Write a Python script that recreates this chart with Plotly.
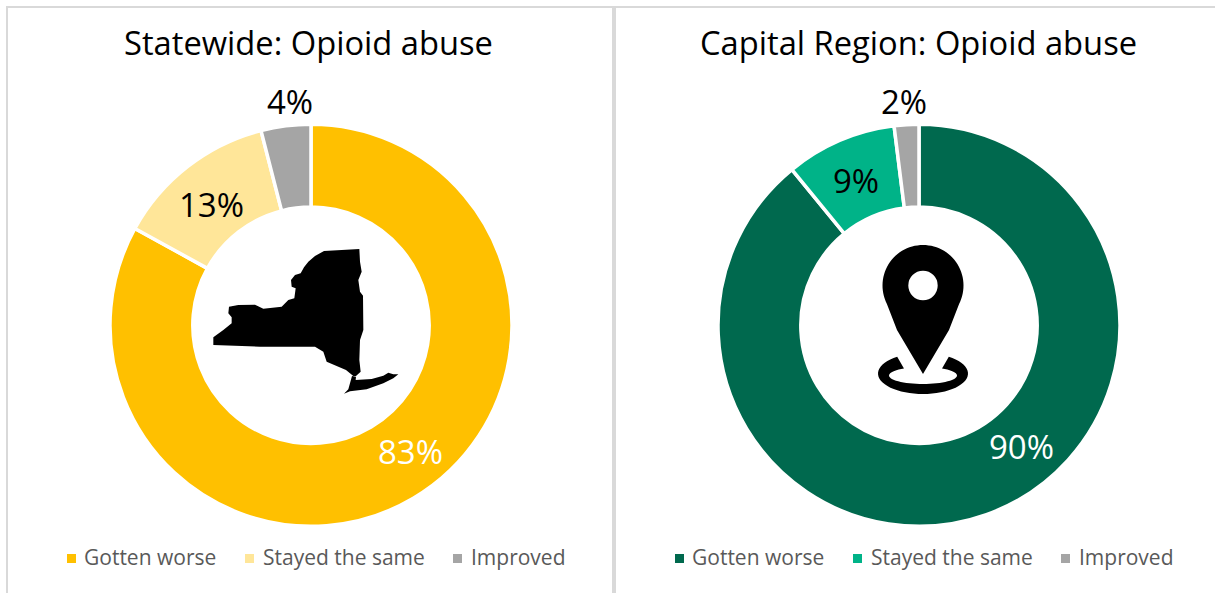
import math
import plotly.graph_objects as go

W, H = 1215, 593
CATEGORIES = ["Gotten worse", "Stayed the same", "Improved"]
STATE_VALUES = [83, 13, 4]
CAPITAL_VALUES = [90, 9, 2]
STATE_COLORS = ["#FFC000", "#FFE699", "#A5A5A5"]
CAPITAL_COLORS = ["#00694E", "#00B388", "#A5A5A5"]
TITLES = ["Statewide: Opioid abuse", "Capital Region: Opioid abuse"]
TEXT = "#595959"
FONT = "Open Sans"
GRID = "#D9D9D9"

def px(x): return x / W
def py(y): return 1 - y / H

def path(points):
    return "M" + "L".join(f"{px(x):.5f},{py(y):.5f}" for x, y in points) + "Z"

def zoomed(points, ox, oy):
    return [(ox + a / 3, oy + b / 3) for a, b in points]

def pie(values, colors, cx, cy=325.3, r=201):
    return go.Pie(
        labels=CATEGORIES, values=values, sort=False, direction="clockwise", rotation=0,
        hole=0.588, textinfo="none", hoverinfo="label+value", showlegend=False,
        marker=dict(colors=colors, line=dict(color="white", width=3.5)),
        domain=dict(x=[px(cx - r), px(cx + r)], y=[py(cy + r), py(cy - r)]),
    )

fig = go.Figure([pie(STATE_VALUES, STATE_COLORS, 311), pie(CAPITAL_VALUES, CAPITAL_COLORS, 919)])

shapes = []
def rect(x0, y0, x1, y1, color):
    shapes.append(dict(type="rect", xref="paper", yref="paper", x0=px(x0), x1=px(x1),
                       y0=py(y0), y1=py(y1), fillcolor=color, line_width=0, layer="below"))

# frame lines
rect(6, 6, W, 8, GRID)
rect(6, 6, 8, H, GRID)
rect(612, 6, 616, H, GRID)

annotations = []
def text(x, y, s, size, color, anchor="center"):
    annotations.append(dict(x=px(x), y=py(y), xref="paper", yref="paper", text=s, showarrow=False,
                            xanchor=anchor, yanchor="middle",
                            font=dict(family=FONT, size=size, color=color)))

text(308.5, 42.5, TITLES[0], 32.7, "#000000")
text(918.5, 42.5, TITLES[1], 32.7, "#000000")

# data labels
for (x, y), v, c in zip([(410, 451), (211.5, 205), (290, 102)], STATE_VALUES, ["white", "black", "black"]):
    text(x, y, f"{v}%", 33, c)
for (x, y), v, c in zip([(1021, 446), (856, 180), (904, 102)], CAPITAL_VALUES, ["white", "black", "black"]):
    text(x, y, f"{v}%", 33, c)

# legends
for mx, tx, name, col in zip([67, 245, 453], [82, 261, 468.5], CATEGORIES, STATE_COLORS):
    rect(mx, 554, mx + 9, 563, col)
    text(tx, 557, name, 21, TEXT, "left")
for mx, tx, name, col in zip([675, 853, 1061], [690, 869, 1076.5], CATEGORIES, CAPITAL_COLORS):
    rect(mx, 554, mx + 9, 563, col)
    text(tx, 557, name, 21, TEXT, "left")

# New York silhouette
NY = [(538,57),(540,95),(545,125),(535,150),(540,185),(549,197),(550,300),(540,330),(538,390),(542,425),
      (528,438),(520,438),(498,420),(440,395),(430,365),(405,350),(240,350),(100,345),(100,322),(130,300),
      (155,280),(155,262),(145,250),(147,230),(175,225),(225,224),(250,236),(305,230),(325,210),(343,205),
      (347,175),(335,170),(333,150),(345,135),(362,130),(372,112),(385,95),(405,78),(432,63)]
LI = [(516,438),(528,440),(527,450),(575,447),(610,437),(625,428),(640,433),(655,433),(640,445),
      (610,460),(560,478),(510,484),(492,491),(505,478)]
for poly in (NY, LI):
    shapes.append(dict(type="path", xref="paper", yref="paper", path=path(zoomed(poly, 180, 230)),
                       fillcolor="black", line_width=0))

# Map pin
cx, cy, R = 923, 285.5, 40.5
TANG = 27
pin = [(923, 374), (949, 330)]
for i in range(61):
    a = math.radians(-TANG + (180 + 2 * TANG) * i / 60)
    pin.append((cx + R * math.cos(a), cy - R * math.sin(a)))
pin.append((897, 330))
shapes.append(dict(type="path", xref="paper", yref="paper", path=path(pin), fillcolor="black", line_width=0))
shapes.append(dict(type="circle", xref="paper", yref="paper", x0=px(cx - 14.7), x1=px(cx + 14.7),
                   y0=py(cy + 14.7), y1=py(cy - 14.7), fillcolor="white", line_width=0))

# ring under the pin
def arc(xc, yc, rx, ry, a0, a1, n=50):
    return [(xc + rx * math.cos(math.radians(a0 + (a1 - a0) * i / n)),
             yc + ry * math.sin(math.radians(a0 + (a1 - a0) * i / n))) for i in range(n + 1)]
ring = arc(923, 373.5, 45, 20.5, 235, -55) + arc(923, 375.5, 34, 8.5, -56, 236)
shapes.append(dict(type="path", xref="paper", yref="paper", path=path(ring), fillcolor="black", line_width=0))

fig.update_layout(width=W, height=H, autosize=False, margin=dict(l=0, r=0, t=0, b=0),
                  paper_bgcolor="white", plot_bgcolor="white", shapes=shapes, annotations=annotations,
                  font=dict(family=FONT))
fig.write_html("out.html", config=dict(displayModeBar=False),
               post_script="document.body.style.margin='0';document.documentElement.style.overflow='hidden';")
